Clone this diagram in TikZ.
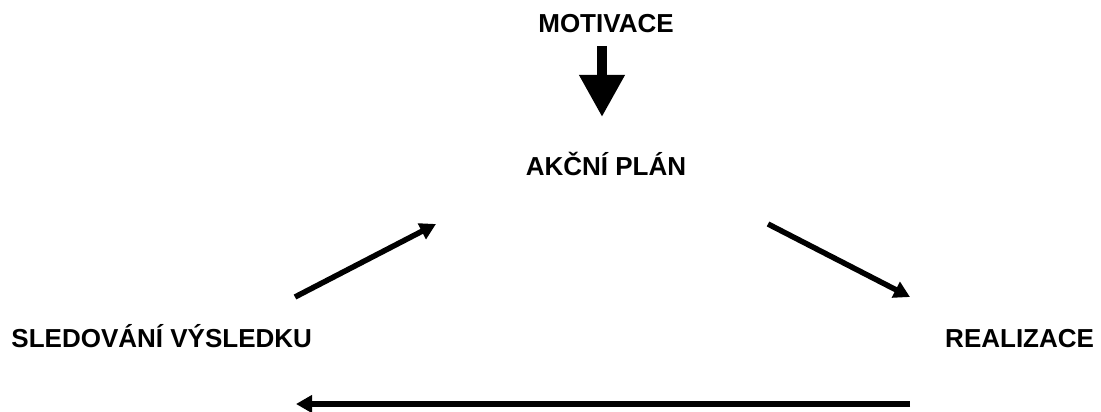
\documentclass[tikz,border=0pt]{standalone}
\usepackage{fontspec}
\setmainfont{Liberation Sans}
\usetikzlibrary{arrows.meta}
\begin{document}
\begin{tikzpicture}[x=1pt,y=-1pt,
  lbl/.style={font=\bfseries\fontsize{26}{30}\selectfont, inner sep=0pt, outer sep=0pt},
  flow/.style={line width=5.5pt, -{Triangle[width=17pt,length=16pt]}},
  bigarrow/.style={line width=10pt, -{Triangle[width=43pt,length=42pt]}}]
\useasboundingbox (0,0) rectangle (1101,412);
\node[lbl, anchor=base] (mot) at (606,33) {MOTIVACE};
\node[lbl, anchor=base] (akc) at (606,175) {AKČNÍ PLÁN};
\node[lbl, anchor=base west] (sled) at (11.5,347) {SLEDOVÁNÍ VÝSLEDKU};
\node[lbl, anchor=base east] (real) at (1094,347) {REALIZACE};
\coordinate (motout) at (602,46);
\coordinate (akcin) at (602,117);
\coordinate (sledout) at (295,297);
\coordinate (akcinl) at (436,224);
\coordinate (akcoutr) at (768,224);
\coordinate (realin) at (910,297);
\coordinate (realout) at (910,404);
\coordinate (sledin) at (296,404);
\draw[bigarrow] (motout) -- (akcin);
\draw[flow] (sledout) -- (akcinl);
\draw[flow] (akcoutr) -- (realin);
\draw[flow] (realout) -- (sledin);
\end{tikzpicture}
\end{document}
